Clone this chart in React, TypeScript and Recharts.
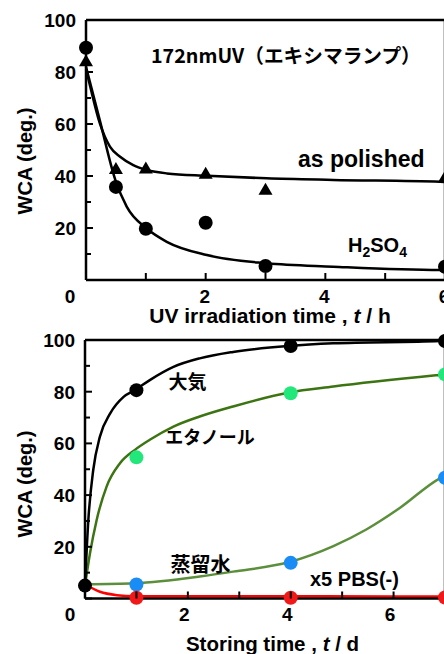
import React from 'react';
import { ComposedChart, Line, Scatter, XAxis, YAxis } from 'recharts';

// ---------- Top chart: UV irradiation ----------
const uvHours = [0, 0.5, 1, 2, 3, 6];
const h2so4Wca = [89.3, 35.8, 19.7, 22, 5.4, 5.1];
const polishedWca = [84.3, 42.8, 43, 41, 34.9, 39.7];

const polishedFitHours = [0, 0.07, 0.23, 0.4, 0.57, 0.79, 1.02, 1.35, 2.02, 3.02, 4.13, 5.92, 6];
const polishedFitWca = [81, 74.4, 60.3, 51.3, 47.4, 44.2, 42.3, 41, 40.1, 39.1, 38.5, 37.8, 37.7];
const h2so4FitHours = [0, 0.23, 0.49, 0.68, 1.02, 1.35, 2.02, 3.02, 4.13, 5.92, 6];
const h2so4FitWca = [82, 61.5, 38.5, 28.2, 19.7, 14.7, 9.6, 6.4, 5.1, 3.8, 3.8];

// ---------- Bottom chart: storing time ----------
const storeStartDay = [0];
const storeStartWca = [5];
const storeDays = [1, 4, 7];
const airWca = [80.6, 97.7, 99.6];
const ethanolWca = [54.6, 79.4, 86.7];
const waterWca = [5.4, 13.8, 46.7];
const pbsWca = [0.3, 0.3, 0.4];

const airFitDays = [0, 0.065, 0.16, 0.29, 0.49, 0.75, 0.97, 1.26, 1.72, 2.23, 2.88, 3.97, 4.83, 6.9, 7];
const airFitWca = [5, 30.4, 49.7, 62.6, 71.6, 78, 80.6, 84.5, 89.6, 92.9, 95.4, 97.7, 98.7, 99.6, 99.7];
const ethanolFitDays = [0, 0.097, 0.227, 0.42, 0.68, 0.97, 1.26, 1.72, 2.23, 2.88, 3.97, 4.83, 6.9, 7];
const ethanolFitWca = [5, 17.5, 30.4, 43.3, 52.3, 57.5, 61.4, 66.5, 70.4, 74.3, 79.7, 82, 86.5, 86.7];
const waterFitDays = [0, 0.97, 2.23, 2.88, 3.97, 4.83, 5.47, 6.12, 6.9, 7];
const waterFitWca = [5.5, 5.9, 8.5, 10.4, 14.1, 20.3, 26.7, 35, 46.5, 47.5];
const pbsFitDays = [0, 0.29, 0.62, 0.97, 2, 4, 6, 7];
const pbsFitWca = [5.5, 2.6, 1.3, 0.9, 0.9, 0.9, 0.8, 0.8];

const xTicksTop = [0, 1, 2, 3, 4, 5, 6];
const xTicksBottom = [0, 1, 2, 3, 4, 5, 6, 7];
const yTicks = [0, 10, 20, 30, 40, 50, 60, 70, 80, 90, 100];
const xLabelValues = [2, 4, 6];

const pts = (xs: number[], ys: number[]) => xs.map((x, i) => ({ x, y: ys[i] }));

const LATIN = "'Liberation Sans', Arial, 'Noto Sans CJK JP', sans-serif";
const JP = "'Noto Sans CJK JP', 'Noto Sans CJK SC', sans-serif";

const LeftTick = (props: any) => {
  const { x, y, payload } = props;
  const v = payload.value;
  const ax = x + 10;
  const major = v % 20 === 0;
  return (
    <g>
      <line x1={ax} x2={ax + (major ? 7 : 5)} y1={y} y2={y} stroke="#000" strokeWidth={2} />
      {major && v > 0 && (
        <text x={x} y={y + 7} textAnchor="end" fontFamily={LATIN} fontWeight={700} fontSize={19} fill="#000">
          {v}
        </text>
      )}
    </g>
  );
};

const RightTick = (props: any) => {
  const { x, y, payload } = props;
  const v = payload.value;
  const major = v % 20 === 0;
  return <line x1={x} x2={x - (major ? 7 : 4)} y1={y} y2={y} stroke="#000" strokeWidth={2} />;
};

const TopTick = (props: any) => {
  const { x, y } = props;
  return <line x1={x} x2={x} y1={y} y2={y + 7} stroke="#000" strokeWidth={2} />;
};

const makeBottomTick = (dx: number, zeroDx: number) => (props: any) => {
  const { x, y, payload } = props;
  const v = payload.value;
  return (
    <g>
      <line x1={x} x2={x} y1={y} y2={y - 7} stroke="#000" strokeWidth={2} />
      {xLabelValues.includes(v) && (
        <text x={x + dx} y={y + 22.5} textAnchor="middle" fontFamily={LATIN} fontWeight={700} fontSize={19} fill="#000">
          {v}
        </text>
      )}
      {v === 0 && (
        <text x={x + zeroDx} y={y + 22.5} textAnchor="middle" fontFamily={LATIN} fontWeight={700} fontSize={19} fill="#000">
          0
        </text>
      )}
    </g>
  );
};

const circleShape = (color: string, r = 7) => (p: any) => (
  <circle cx={p.cx} cy={p.cy} r={r} fill={color} />
);
const triangleShape = (p: any) => {
  const { cx, cy } = p;
  const w = 7, h = 12;
  return <path d={`M${cx},${cy - h * 0.55} L${cx + w},${cy + h * 0.45} L${cx - w},${cy + h * 0.45} Z`} fill="#000" />;
};

const axisLine = { stroke: '#000', strokeWidth: 2.5 };

const TopChart = () => (
  <ComposedChart width={470} height={330} margin={{ top: 19, right: 24, bottom: 49, left: 0 }}>
    <XAxis xAxisId="b" dataKey="x" type="number" domain={[0, 6]} ticks={xTicksTop} orientation="bottom"
      height={1} tickSize={0} tickMargin={0} tickLine={false} axisLine={axisLine}
      tick={makeBottomTick(-1, -16)} interval={0} />
    <XAxis xAxisId="t" dataKey="x" type="number" domain={[0, 6]} ticks={xTicksTop} orientation="top"
      height={1} tickSize={0} tickMargin={0} tickLine={false} axisLine={axisLine} tick={TopTick} interval={0} />
    <YAxis yAxisId="l" dataKey="y" type="number" domain={[0, 100]} ticks={yTicks} width={86}
      tickSize={0} tickMargin={10} tickLine={false} axisLine={axisLine} tick={LeftTick} interval={0} />
    <YAxis yAxisId="r" dataKey="y" type="number" domain={[0, 100]} ticks={yTicks} width={1} orientation="right"
      tickSize={0} tickMargin={0} tickLine={false} axisLine={axisLine} tick={RightTick} interval={0} />
    <Line xAxisId="b" yAxisId="l" data={pts(polishedFitHours, polishedFitWca)} dataKey="y" type="monotone"
      stroke="#000" strokeWidth={2.5} dot={false} isAnimationActive={false} />
    <Line xAxisId="b" yAxisId="l" data={pts(h2so4FitHours, h2so4FitWca)} dataKey="y" type="monotone"
      stroke="#000" strokeWidth={2.5} dot={false} isAnimationActive={false} />
    <Scatter xAxisId="b" yAxisId="l" data={pts(uvHours, polishedWca)} dataKey="y" shape={triangleShape} isAnimationActive={false} />
    <Scatter xAxisId="b" yAxisId="l" data={pts(uvHours, h2so4Wca)} dataKey="y" shape={circleShape('#000', 7)} isAnimationActive={false} />
  </ComposedChart>
);

const BottomChart = () => (
  <ComposedChart width={470} height={334} margin={{ top: 19, right: 24, bottom: 54.5, left: 0 }}>
    <XAxis xAxisId="b" dataKey="x" type="number" domain={[0, 7]} ticks={xTicksBottom} orientation="bottom"
      height={1} tickSize={0} tickMargin={0} tickLine={false} axisLine={axisLine}
      tick={makeBottomTick(-3.5, -15)} interval={0} />
    <XAxis xAxisId="t" dataKey="x" type="number" domain={[0, 7]} ticks={xTicksBottom} orientation="top"
      height={1} tickSize={0} tickMargin={0} tickLine={false} axisLine={axisLine} tick={TopTick} interval={0} />
    <YAxis yAxisId="l" dataKey="y" type="number" domain={[0, 100]} ticks={yTicks} width={85}
      tickSize={0} tickMargin={10} tickLine={false} axisLine={axisLine} tick={LeftTick} interval={0} />
    <YAxis yAxisId="r" dataKey="y" type="number" domain={[0, 100]} ticks={yTicks} width={1} orientation="right"
      tickSize={0} tickMargin={0} tickLine={false} axisLine={axisLine} tick={RightTick} interval={0} />
    <Line xAxisId="b" yAxisId="l" data={pts(waterFitDays, waterFitWca)} dataKey="y" type="monotone"
      stroke="#5b8f3b" strokeWidth={2.5} dot={false} isAnimationActive={false} />
    <Line xAxisId="b" yAxisId="l" data={pts(ethanolFitDays, ethanolFitWca)} dataKey="y" type="monotone"
      stroke="#3c7412" strokeWidth={2.5} dot={false} isAnimationActive={false} />
    <Line xAxisId="b" yAxisId="l" data={pts(airFitDays, airFitWca)} dataKey="y" type="monotone"
      stroke="#000" strokeWidth={2.5} dot={false} isAnimationActive={false} />
    <Line xAxisId="b" yAxisId="l" data={pts(pbsFitDays, pbsFitWca)} dataKey="y" type="monotone"
      stroke="#ff0000" strokeWidth={2.5} dot={false} isAnimationActive={false} />
    <Scatter xAxisId="b" yAxisId="l" data={pts(storeDays, waterWca)} dataKey="y" shape={circleShape('#1a8cf5')} isAnimationActive={false} />
    <Scatter xAxisId="b" yAxisId="l" data={pts(storeDays, pbsWca)} dataKey="y" shape={circleShape('#f01818')} isAnimationActive={false} />
    <Scatter xAxisId="b" yAxisId="l" data={pts(storeDays, ethanolWca)} dataKey="y" shape={circleShape('#22e87c')} isAnimationActive={false} />
    <Scatter xAxisId="b" yAxisId="l" data={pts(storeDays, airWca)} dataKey="y" shape={circleShape('#000')} isAnimationActive={false} />
    <Scatter xAxisId="b" yAxisId="l" data={pts(storeStartDay, storeStartWca)} dataKey="y" shape={circleShape('#000')} isAnimationActive={false} />
  </ComposedChart>
);

const Overlay = () => (
  <svg width={444} height={654} style={{ position: 'absolute', left: 0, top: 0, pointerEvents: 'none' }}>
    <g fontFamily={LATIN} fontWeight={700} fill="#000">
      <text transform="translate(32,161) rotate(-90)" textAnchor="middle" fontSize={20}>WCA (deg.)</text>
      <text transform="translate(32,484) rotate(-90)" textAnchor="middle" fontSize={20}>WCA (deg.)</text>
      <text x={270} y={323} textAnchor="middle" fontSize={21} style={{ whiteSpace: 'pre' }}>
        {'UV irradiation time , '}<tspan fontStyle="italic">t</tspan>{' / h'}
      </text>
      <text x={272.5} y={651} textAnchor="middle" fontSize={20.5} style={{ whiteSpace: 'pre' }}>
        {'Storing time , '}<tspan fontStyle="italic">t</tspan>{' / d'}
      </text>
      <text x={298} y={167} fontSize={23}>as polished</text>
      <text x={348} y={251.7} fontSize={20}>
        H<tspan fontSize={14} dy={5}>2</tspan><tspan fontSize={20} dy={-5}>SO</tspan><tspan fontSize={14} dy={5}>4</tspan>
      </text>
      <text x={310} y={586} fontSize={20}>x5 PBS(-)</text>
    </g>
    <g fontFamily={JP} fontWeight={700} fill="#000">
      <text x={151} y={62.5} fontSize={19.7}>172nmUV（エキシマランプ）</text>
      <text x={187.5} y={380} fontSize={19} textAnchor="middle" dominantBaseline="central">大気</text>
      <text x={210} y={436} fontSize={18} textAnchor="middle" dominantBaseline="central">エタノール</text>
      <text x={200.5} y={563} fontSize={20} textAnchor="middle" dominantBaseline="central">蒸留水</text>
    </g>
  </svg>
);

export default function App() {
  return (
    <div style={{ position: 'fixed', left: 0, top: 0, width: 444, height: 654, overflow: 'hidden', background: '#fff' }}>
      <div style={{ position: 'absolute', left: 0, top: 0 }}>
        <TopChart />
      </div>
      <div style={{ position: 'absolute', left: 0, top: 320 }}>
        <BottomChart />
      </div>
      <Overlay />
    </div>
  );
}
